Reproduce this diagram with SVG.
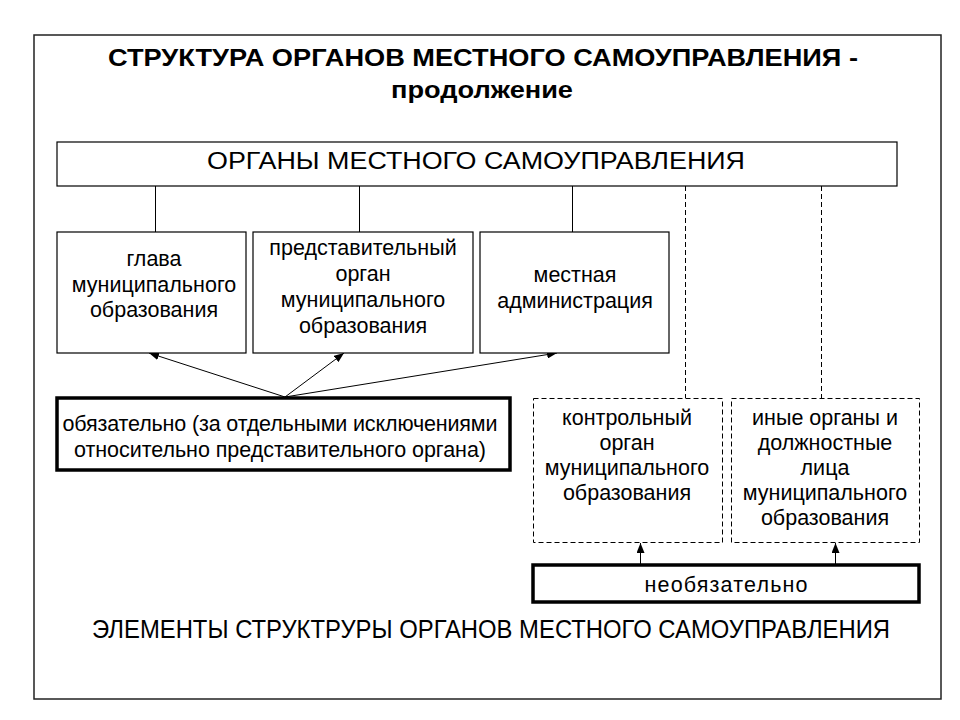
<svg xmlns="http://www.w3.org/2000/svg" width="960" height="720" viewBox="0 0 960 720">
<defs>
<marker id="ah" viewBox="0 0 10 8" refX="10" refY="4" markerWidth="10" markerHeight="8" markerUnits="userSpaceOnUse" orient="auto">
<path d="M0,0 L10,4 L0,8 Z" fill="#000"/>
</marker>
<style>
.box{fill:#fff;stroke:#000;stroke-width:1.2}
.thick{fill:#fff;stroke:#000;stroke-width:3.5}
.dash{fill:#fff;stroke:#000;stroke-width:1;stroke-dasharray:5 3}
.t{font-family:"Liberation Sans",Arial,sans-serif;font-size:21.5px;fill:#000;text-anchor:middle}
.n{font-family:"Liberation Sans",Arial,sans-serif;fill:#000;text-anchor:middle}
.ln{stroke:#000;stroke-width:1;fill:none}
.dl{stroke:#000;stroke-width:1;fill:none;stroke-dasharray:5 3}
</style>
</defs>
<rect x="0" y="0" width="960" height="720" fill="#fff"/>
<rect x="34" y="35" width="907" height="664" fill="none" stroke="#222" stroke-width="1.5"/>
<g id="title">
<text class="n" x="483" y="66" font-size="23" font-weight="bold" textLength="750" lengthAdjust="spacingAndGlyphs">СТРУКТУРА ОРГАНОВ МЕСТНОГО САМОУПРАВЛЕНИЯ -</text>
<text class="n" x="482" y="98" font-size="23" font-weight="bold" textLength="182" lengthAdjust="spacingAndGlyphs">продолжение</text>
</g>
<g id="connectors">
<line class="ln" x1="155.5" y1="186" x2="155.5" y2="232"/>
<line class="ln" x1="359.5" y1="186" x2="359.5" y2="232"/>
<line class="ln" x1="572.5" y1="186" x2="572.5" y2="232"/>
<line class="dl" x1="685.5" y1="186" x2="685.5" y2="398"/>
<line class="dl" x1="821.5" y1="186" x2="821.5" y2="398"/>
<line class="ln" x1="285" y1="397" x2="149" y2="353" marker-end="url(#ah)"/>
<line class="ln" x1="285" y1="397" x2="344" y2="353" marker-end="url(#ah)"/>
<line class="ln" x1="285" y1="397" x2="557" y2="353" marker-end="url(#ah)"/>
<line class="ln" x1="640.5" y1="564" x2="640.5" y2="543" marker-end="url(#ah)"/>
<line class="ln" x1="835.5" y1="564" x2="835.5" y2="543" marker-end="url(#ah)"/>
</g>
<g id="organs">
<rect class="box" x="57" y="142" width="840" height="44"/>
<text class="n" x="476" y="169" font-size="23" textLength="538" lengthAdjust="spacingAndGlyphs">ОРГАНЫ МЕСТНОГО САМОУПРАВЛЕНИЯ</text>
</g>
<g id="head">
<rect class="box" x="57" y="232" width="189" height="121"/>
<text class="t" x="154" y="266">глава</text>
<text class="t" x="154" y="292">муниципального</text>
<text class="t" x="154" y="317">образования</text>
</g>
<g id="representative">
<rect class="box" x="253" y="232" width="220" height="121"/>
<text class="t" x="363" y="255">представительный</text>
<text class="t" x="363" y="281">орган</text>
<text class="t" x="363" y="307">муниципального</text>
<text class="t" x="363" y="333">образования</text>
</g>
<g id="administration">
<rect class="box" x="480" y="232" width="189" height="121"/>
<text class="t" x="575" y="282">местная</text>
<text class="t" x="575" y="308">администрация</text>
</g>
<g id="mandatory">
<rect class="thick" x="57" y="398" width="453" height="72"/>
<text class="t" x="280" y="431" textLength="435" lengthAdjust="spacing">обязательно (за отдельными  исключениями</text>
<text class="t" x="280" y="457" textLength="412" lengthAdjust="spacing">относительно представительного органа)</text>
</g>
<g id="control">
<rect class="dash" x="533.5" y="398.5" width="189" height="144"/>
<text class="t" x="627" y="425">контрольный</text>
<text class="t" x="627" y="450">орган</text>
<text class="t" x="627" y="475">муниципального</text>
<text class="t" x="627" y="500">образования</text>
</g>
<g id="other">
<rect class="dash" x="731.5" y="398.5" width="188" height="144"/>
<text class="t" x="825" y="425">иные органы и</text>
<text class="t" x="825" y="450">должностные</text>
<text class="t" x="825" y="475">лица</text>
<text class="t" x="825" y="500">муниципального</text>
<text class="t" x="825" y="525">образования</text>
</g>
<g id="optional">
<rect class="thick" x="533" y="565" width="386" height="37"/>
<text class="t" x="726" y="592" textLength="163" lengthAdjust="spacing">необязательно</text>
</g>
<g id="footer">
<text class="n" x="491" y="638" font-size="25" textLength="798" lengthAdjust="spacingAndGlyphs">ЭЛЕМЕНТЫ СТРУКТРУРЫ ОРГАНОВ МЕСТНОГО САМОУПРАВЛЕНИЯ</text>
</g>
</svg>
